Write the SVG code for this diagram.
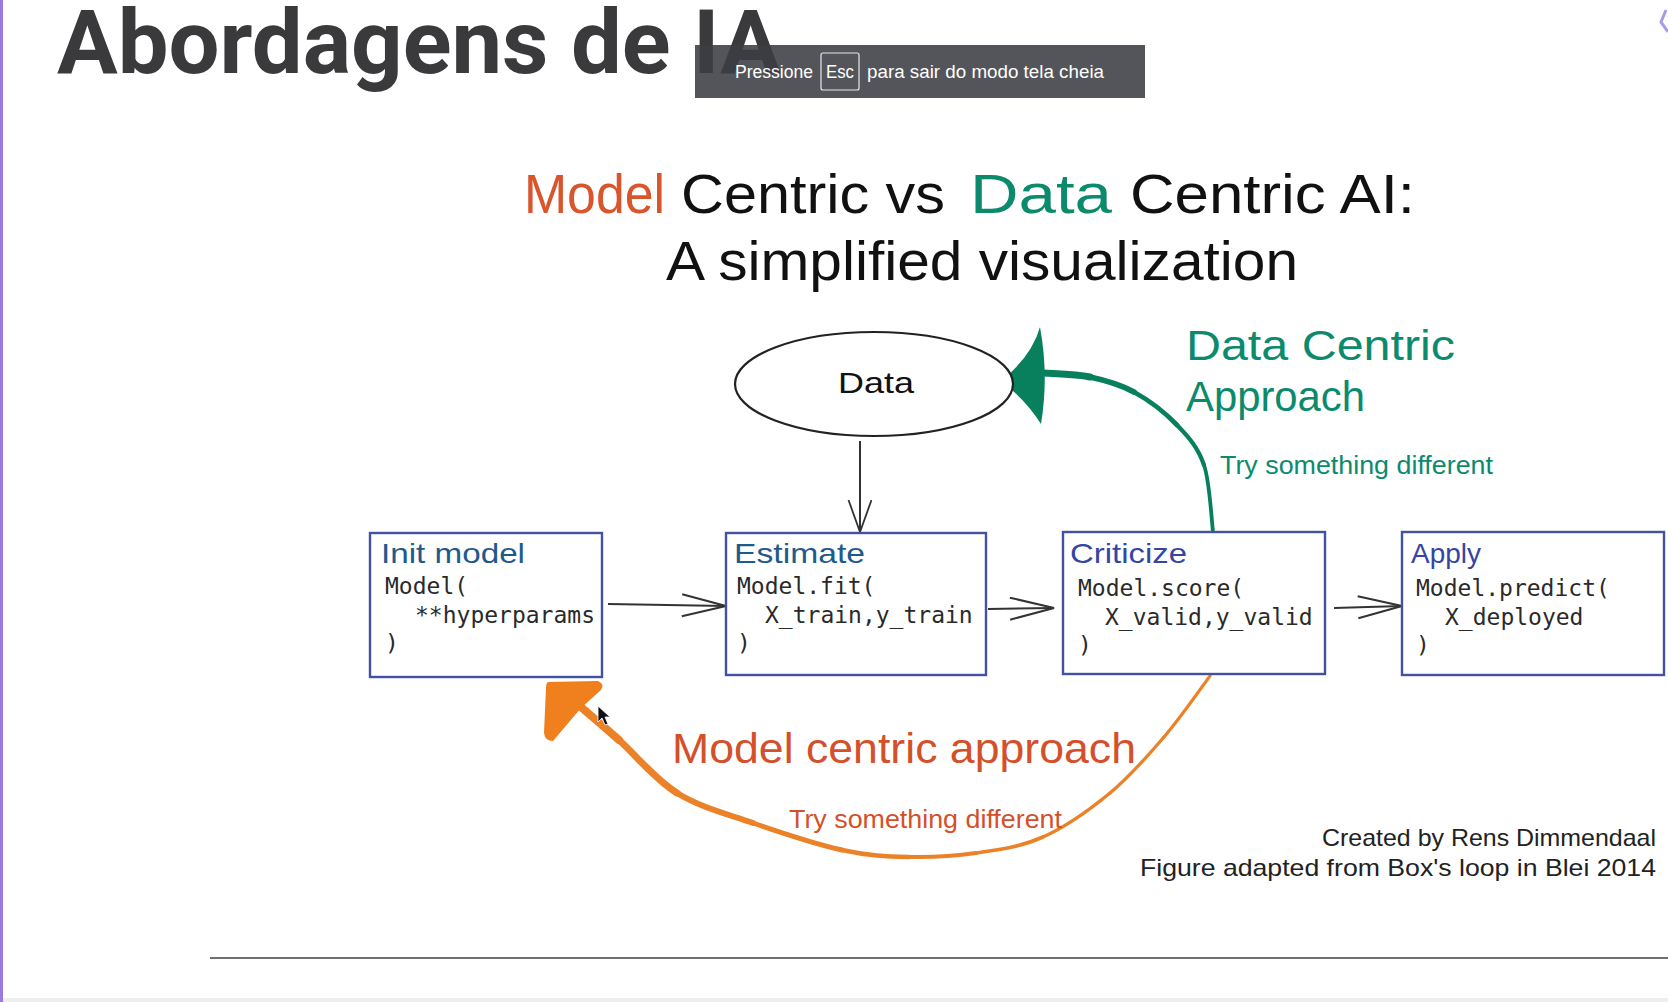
<svg xmlns="http://www.w3.org/2000/svg" width="1668" height="1002" viewBox="0 0 1668 1002">
<style>
.hand{font-family:"Liberation Sans","Noto Sans",sans-serif;}
.code{font-family:"DejaVu Sans Mono","Liberation Mono",monospace;font-size:23px;fill:#2a2a2a;}
.box{fill:#ffffff;stroke:#4351a2;stroke-width:2.4;}
.lblA{fill:#1f5a8c;font-size:28px;}
.lblB{fill:#3446a2;font-size:28px;}
.conn{stroke:#333333;stroke-width:2;fill:none;}
</style>
<defs>
<marker id="chev" markerUnits="userSpaceOnUse" markerWidth="48" markerHeight="28" refX="45" refY="12" orient="auto">
<path d="M1,1 L45,12 L1,23" fill="none" stroke="#333333" stroke-width="2"/>
</marker>
<marker id="chevS" markerUnits="userSpaceOnUse" markerWidth="36" markerHeight="28" refX="33" refY="12" orient="auto">
<path d="M1,0.5 L33,12 L1,23.5" fill="none" stroke="#333333" stroke-width="1.8"/>
</marker>
</defs>
<rect x="0" y="0" width="1668" height="1002" fill="#ffffff"/>
<rect x="0" y="998" width="1668" height="4" fill="#eeeeee"/>
<rect x="0" y="0" width="3" height="1002" fill="#9a7ae0"/>
<path d="M1666,10 L1661,22 L1668,32" fill="none" stroke="#a99be6" stroke-width="3"/>

<g id="slide-title">
<text x="57" y="73" font-family="Roboto,'Liberation Sans',sans-serif" font-weight="700" font-size="89" fill="#3a3a3c" textLength="724" lengthAdjust="spacingAndGlyphs">Abordagens de IA</text>
</g>

<g id="diagram-title" class="hand" font-size="56">
<text x="524" y="213" fill="#d9552c" textLength="141" lengthAdjust="spacingAndGlyphs">Model</text>
<text x="681" y="213" fill="#111111" textLength="264" lengthAdjust="spacingAndGlyphs">Centric vs</text>
<text x="970" y="213" fill="#0c8a6c" textLength="142" lengthAdjust="spacingAndGlyphs">Data</text>
<text x="1130" y="213" fill="#111111" textLength="285" lengthAdjust="spacingAndGlyphs">Centric AI:</text>
<text x="666" y="280" fill="#111111" textLength="632" lengthAdjust="spacingAndGlyphs">A simplified visualization</text>
</g>

<g id="connectors">
<line class="conn" x1="860" y1="441" x2="860" y2="532" marker-end="url(#chevS)"/>
<line class="conn" x1="608" y1="604" x2="726" y2="606" marker-end="url(#chev)"/>
<line class="conn" x1="988" y1="609" x2="1054" y2="608" marker-end="url(#chev)"/>
<line class="conn" x1="1334" y1="608" x2="1402" y2="606" marker-end="url(#chev)"/>
<g id="data-centric-arrow" fill="none" stroke="#08805e" stroke-linecap="round">
<path d="M1044,373 C1051.7,373.7 1075,373.8 1090,377" stroke-width="7"/>
<path d="M1090,377 C1105,380.2 1119.5,384 1134,392" stroke-width="5.8"/>
<path d="M1134,392 C1148.5,400 1165.3,412.8 1177,425" stroke-width="4.8"/>
<path d="M1177,425 C1188.7,437.2 1198,447.2 1204,465" stroke-width="4.2"/>
<path d="M1204,465 C1210,482.8 1211.5,520.8 1213,532" stroke-width="3.8"/>
<path d="M1040,327 Q1032,356 1001,381 Q1026,400 1041,424 Q1049,376 1040,327 Z" fill="#08805e" stroke="none"/>
</g>
<g id="model-centric-arrow" fill="none" stroke="#ec8228" stroke-linecap="round">
<path d="M581,707 C587.3,712.5 603,725.7 619,740" stroke-width="8"/>
<path d="M619,740 C635,754.3 654.7,779.2 677,793" stroke-width="7"/>
<path d="M677,793 C699.3,806.8 725.5,813.5 753,823" stroke-width="5.8"/>
<path d="M753,823 C780.5,832.5 816,844.3 842,850" stroke-width="5"/>
<path d="M842,850 C868,855.7 886.7,856.5 909,857" stroke-width="4.4"/>
<path d="M909,857 C931.3,857.5 953.7,856.3 976,853" stroke-width="4"/>
<path d="M976,853 C998.3,849.7 1020.7,847 1043,837" stroke-width="3.7"/>
<path d="M1043,837 C1065.3,827 1089.8,809.7 1110,793" stroke-width="3.5"/>
<path d="M1110,793 C1130.2,776.3 1147.3,756.5 1164,737" stroke-width="3.3"/>
<path d="M1164,737 C1180.7,717.5 1202.3,686.2 1210,676" stroke-width="3.1"/>
<path d="M548,682 L598,681 Q605,684 601,690 L581,708 L553,741 Q545,741 544,733 L546,688 Q546,683 548,682 Z" fill="#f07f1e" stroke="none"/>
</g>
</g>

<g id="node-data">
<ellipse cx="874" cy="384" rx="139" ry="52" fill="#ffffff" stroke="#222222" stroke-width="2.2"/>
<text class="hand" x="838" y="393" font-size="29" fill="#111111" textLength="76" lengthAdjust="spacingAndGlyphs">Data</text>
</g>

<g id="node-init">
<rect class="box" x="370" y="533" width="232" height="144"/>
<text class="hand lblA" x="381" y="563" textLength="144" lengthAdjust="spacingAndGlyphs">Init model</text>
<text class="code" x="385" y="594">Model(</text>
<text class="code" x="415" y="623">**hyperparams</text>
<text class="code" x="385" y="651">)</text>
</g>

<g id="node-estimate">
<rect class="box" x="726" y="533" width="260" height="142"/>
<text class="hand lblA" x="734" y="563" textLength="131" lengthAdjust="spacingAndGlyphs">Estimate</text>
<text class="code" x="737" y="594">Model.fit(</text>
<text class="code" x="765" y="623">X_train,y_train</text>
<text class="code" x="737" y="651">)</text>
</g>

<g id="node-criticize">
<rect class="box" x="1063" y="532" width="262" height="142"/>
<text class="hand lblB" x="1070" y="563" textLength="117" lengthAdjust="spacingAndGlyphs">Criticize</text>
<text class="code" x="1078" y="596">Model.score(</text>
<text class="code" x="1105" y="625">X_valid,y_valid</text>
<text class="code" x="1078" y="653">)</text>
</g>

<g id="node-apply">
<rect class="box" x="1402" y="532" width="262" height="143"/>
<text class="hand lblB" x="1411" y="563" textLength="70" lengthAdjust="spacingAndGlyphs">Apply</text>
<text class="code" x="1416" y="596">Model.predict(</text>
<text class="code" x="1445" y="625">X_deployed</text>
<text class="code" x="1416" y="653">)</text>
</g>

<g id="labels" class="hand">
<text x="1186" y="360" font-size="43" fill="#0c8a6c" textLength="269" lengthAdjust="spacingAndGlyphs">Data Centric</text>
<text x="1186" y="411" font-size="43" fill="#0c8a6c" textLength="179" lengthAdjust="spacingAndGlyphs">Approach</text>
<text x="1220" y="474" font-size="25" fill="#0c8a6c" textLength="273" lengthAdjust="spacingAndGlyphs">Try something different</text>
<text x="672" y="763" font-size="42" fill="#d4502a" textLength="464" lengthAdjust="spacingAndGlyphs">Model centric approach</text>
<text x="789" y="828" font-size="25" fill="#d4502a" textLength="273" lengthAdjust="spacingAndGlyphs">Try something different</text>
<text x="1322" y="846" font-size="24" fill="#222222" textLength="334" lengthAdjust="spacingAndGlyphs">Created by Rens Dimmendaal</text>
<text x="1140" y="876" font-size="24" fill="#222222" textLength="516" lengthAdjust="spacingAndGlyphs">Figure adapted from Box's loop in Blei 2014</text>
</g>

<line x1="210" y1="958" x2="1668" y2="958" stroke="#707070" stroke-width="2"/>

<g id="cursor">
<path d="M598,706 L598,722 L602,718 L605,725 L608,724 L605,717 L610,717 Z" fill="#111111" stroke="#ffffff" stroke-width="0.8"/>
</g>

<g id="fullscreen-overlay">
<rect x="695" y="45" width="450" height="53" fill="#3b3e43" fill-opacity="0.88"/>
<rect x="821" y="53" width="38" height="37" rx="2" fill="none" stroke="#e8e8e8" stroke-width="1.2"/>
<g font-family="'Liberation Sans','DejaVu Sans',sans-serif" font-size="18" fill="#ffffff">
<text x="735" y="78" textLength="78" lengthAdjust="spacingAndGlyphs">Pressione</text>
<text x="826" y="78" textLength="28" lengthAdjust="spacingAndGlyphs">Esc</text>
<text x="867" y="78" textLength="237" lengthAdjust="spacingAndGlyphs">para sair do modo tela cheia</text>
</g>
</g>
</svg>
